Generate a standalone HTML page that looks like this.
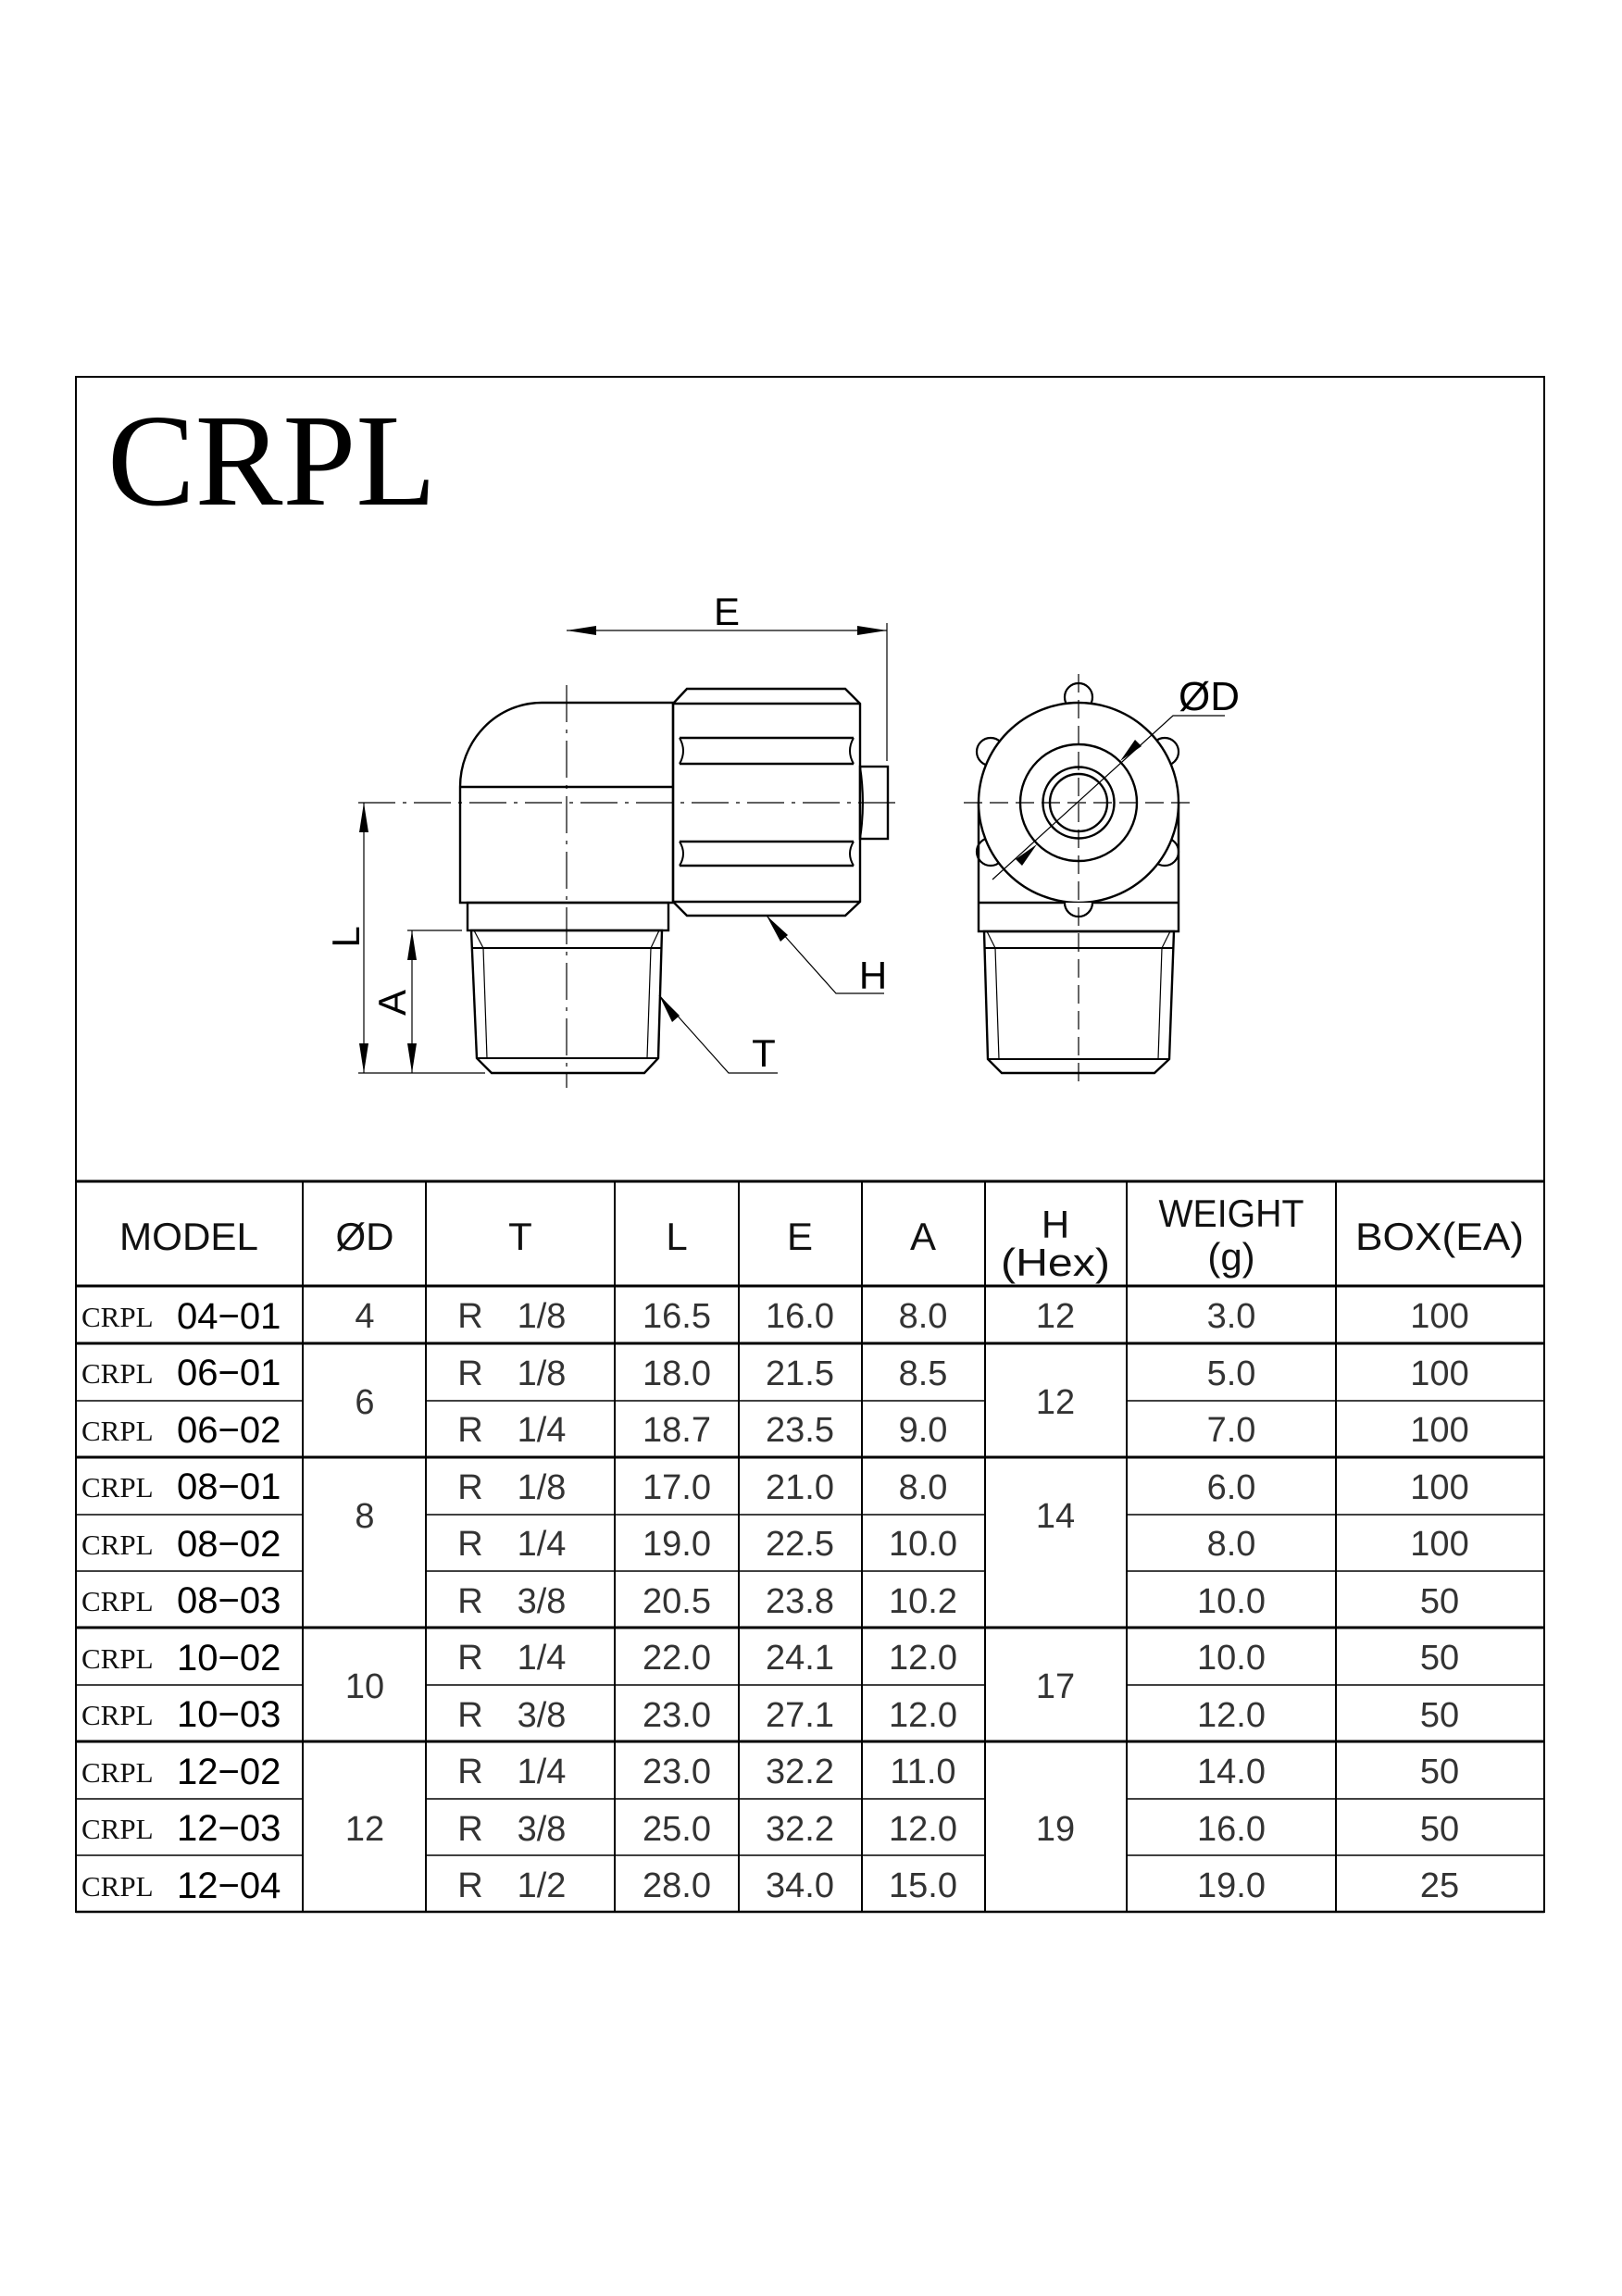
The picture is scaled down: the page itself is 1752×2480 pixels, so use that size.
<!DOCTYPE html>
<html><head><meta charset="utf-8"><style>
html,body{margin:0;padding:0;background:#fff;}
svg{display:block;}
.s{font-family:"Liberation Sans",sans-serif;}
.v{font-family:"Liberation Sans",sans-serif;font-size:38px;fill:#333;text-anchor:middle;}
.h{font-family:"Liberation Sans",sans-serif;font-size:42px;fill:#111;text-anchor:middle;}
.cr{font-family:"Liberation Serif",serif;font-size:31px;fill:#111;}
.mn{font-family:"Liberation Sans",sans-serif;font-size:40px;fill:#000;}
</style></head><body>
<svg width="1752" height="2480" viewBox="0 0 1752 2480" xmlns="http://www.w3.org/2000/svg">
<rect x="0" y="0" width="1752" height="2480" fill="#fff"/>
<rect x="82" y="407" width="1586" height="1658" fill="none" stroke="#000" stroke-width="2"/>
<text x="116" y="545" font-family="Liberation Serif, serif" font-size="142" fill="#000">CRPL</text>

<g fill="none" stroke="#000" stroke-width="2.4">
  <path d="M585 759 L727 759 L727 975 L497 975 L497 850 A88 91 0 0 1 585 759 Z"/>
  <line x1="497" y1="850" x2="727" y2="850"/>
  <rect x="505" y="975" width="217" height="30"/>
  <path d="M509 1005 L715 1005 L711 1143 L696 1159 L531 1159 L515 1143 Z"/>
  <line x1="510" y1="1024" x2="714" y2="1024" stroke-width="2"/>
  <line x1="515" y1="1143" x2="711" y2="1143" stroke-width="2"/>
  <path d="M727 760 L742 744 L913 744 L929 760 L929 974 L913 989 L742 989 L727 974 Z"/>
  <line x1="727" y1="760" x2="929" y2="760"/>
  <line x1="727" y1="974" x2="929" y2="974"/>
  <line x1="734" y1="797" x2="922" y2="797"/>
  <line x1="734" y1="825" x2="922" y2="825"/>
  <line x1="734" y1="909" x2="922" y2="909"/>
  <line x1="734" y1="935" x2="922" y2="935"/>
  <path d="M734 797 Q742 811 734 825 M922 797 Q914 811 922 825 M734 909 Q742 922 734 935 M922 909 Q914 922 922 935" stroke-width="2"/>
  <rect x="929" y="828" width="30" height="78"/>
  <path d="M929 828 Q935 867 929 906" stroke-width="2"/>
</g>
<g stroke="#000" stroke-width="1.2" fill="none">
  <line x1="522" y1="1024" x2="526" y2="1143"/>
  <line x1="703" y1="1024" x2="699" y2="1143"/>
  <line x1="512" y1="1005" x2="522" y2="1024"/>
  <line x1="712" y1="1005" x2="703" y2="1024"/>
  <line x1="612" y1="740" x2="612" y2="1175" stroke-dasharray="40,8,4,8"/>
  <line x1="387" y1="867" x2="975" y2="867" stroke-dasharray="40,8,4,8"/>
  <line x1="958" y1="673" x2="958" y2="822"/>
  <line x1="612" y1="681" x2="958" y2="681"/>
  <line x1="387" y1="1159" x2="524" y2="1159"/>
  <line x1="440" y1="1005" x2="499" y2="1005"/>
  <line x1="393" y1="867" x2="393" y2="1159"/>
  <line x1="445" y1="1005" x2="445" y2="1159"/>
  <polyline points="828,989 903,1073 955,1073"/>
  <polyline points="712,1075 787,1159 840,1159"/>
</g>
<g fill="#000">
  <polygon points="612,681 644,676 644,686"/>
  <polygon points="958,681 926,676 926,686"/>
  <polygon points="393,867 388,899 398,899"/>
  <polygon points="393,1159 388,1127 398,1127"/>
  <polygon points="445,1005 440,1037 450,1037"/>
  <polygon points="445,1159 440,1127 450,1127"/>
  <polygon points="828,989 851,1010 843,1017"/>
  <polygon points="712,1075 734,1097 726,1104"/>
</g>
<g class="s" font-size="42" fill="#000">
  <text x="785" y="675" text-anchor="middle">E</text>
  <text x="943" y="1068" text-anchor="middle">H</text>
  <text x="825" y="1152" text-anchor="middle">T</text>
  <text transform="translate(388,1012) rotate(-90)" text-anchor="middle">L</text>
  <text transform="translate(438,1083) rotate(-90)" text-anchor="middle">A</text>
</g>

<g fill="#fff" stroke="#000" stroke-width="2.2">
  <circle cx="1165" cy="753" r="15"/>
  <circle cx="1070" cy="812" r="15"/>
  <circle cx="1258" cy="812" r="15"/>
  <circle cx="1070" cy="920" r="15"/>
  <circle cx="1258" cy="920" r="15"/>
  <circle cx="1165" cy="975" r="15"/>
</g>
<g fill="none" stroke="#000" stroke-width="2.4">
  <path d="M1057 867 L1057 1006 L1273 1006 L1273 867"/>
  <line x1="1057" y1="975" x2="1273" y2="975"/>
  <circle cx="1165" cy="867" r="108" fill="#fff"/>
  <circle cx="1165" cy="867" r="63"/>
  <circle cx="1165" cy="867" r="38.5"/>
  <circle cx="1165" cy="867" r="31"/>
  <path d="M1063 1006 L1268 1006 L1263 1144 L1247 1159 L1082 1159 L1067 1144 Z"/>
  <line x1="1064" y1="1024" x2="1267" y2="1024" stroke-width="2"/>
  <line x1="1067" y1="1144" x2="1263" y2="1144" stroke-width="2"/>
</g>
<path d="M1150 975 A15 15 0 0 0 1180 975" fill="#fff" stroke="#000" stroke-width="2.2"/>
<g stroke="#000" stroke-width="1.2" fill="none">
  <line x1="1075" y1="1024" x2="1079" y2="1144"/>
  <line x1="1255" y1="1024" x2="1251" y2="1144"/>
  <line x1="1066" y1="1006" x2="1075" y2="1024"/>
  <line x1="1264" y1="1006" x2="1255" y2="1024"/>
  <line x1="1165" y1="728" x2="1165" y2="1175" stroke-dasharray="20,8"/>
  <line x1="1041" y1="867" x2="1288" y2="867" stroke-dasharray="20,8"/>
  <polyline points="1072,950 1267,773 1323,773"/>
</g>
<g fill="#000">
  <polygon points="1210,822 1233,806 1226,799"/>
  <polygon points="1120,912 1097,928 1104,935"/>
</g>
<text x="1273" y="767" class="s" font-size="44" fill="#000">ØD</text>

<g stroke="#000" fill="none">
  <line x1="82" y1="1276" x2="1668" y2="1276" stroke-width="3"/>
  <line x1="82" y1="1389" x2="1668" y2="1389" stroke-width="3"/>
  <line x1="82" y1="1451" x2="1668" y2="1451" stroke-width="3"/>
  <line x1="82" y1="1574" x2="1668" y2="1574" stroke-width="3"/>
  <line x1="82" y1="1758" x2="1668" y2="1758" stroke-width="3"/>
  <line x1="82" y1="1881" x2="1668" y2="1881" stroke-width="3"/>
  <line x1="82" y1="2065" x2="1668" y2="2065" stroke-width="2.5"/>
  <g stroke-width="1.6">
    <path d="M82 1513 H327 M460 1513 H1064 M1217 1513 H1668"/>
    <path d="M82 1636 H327 M460 1636 H1064 M1217 1636 H1668"/>
    <path d="M82 1697 H327 M460 1697 H1064 M1217 1697 H1668"/>
    <path d="M82 1820 H327 M460 1820 H1064 M1217 1820 H1668"/>
    <path d="M82 1943 H327 M460 1943 H1064 M1217 1943 H1668"/>
    <path d="M82 2004 H327 M460 2004 H1064 M1217 2004 H1668"/>
  </g>
  <g stroke-width="2">
    <line x1="327" y1="1276" x2="327" y2="2065"/>
    <line x1="460" y1="1276" x2="460" y2="2065"/>
    <line x1="664" y1="1276" x2="664" y2="2065"/>
    <line x1="798" y1="1276" x2="798" y2="2065"/>
    <line x1="931" y1="1276" x2="931" y2="2065"/>
    <line x1="1064" y1="1276" x2="1064" y2="2065"/>
    <line x1="1217" y1="1276" x2="1217" y2="2065"/>
    <line x1="1443" y1="1276" x2="1443" y2="2065"/>
  </g>
</g>
<g class="h">
  <text x="204" y="1350" textLength="150" lengthAdjust="spacingAndGlyphs">MODEL</text>
  <text x="394" y="1350">ØD</text>
  <text x="562" y="1350">T</text>
  <text x="731" y="1350">L</text>
  <text x="864" y="1350">E</text>
  <text x="997" y="1350">A</text>
  <text x="1140" y="1337">H</text>
  <text x="1140" y="1378" textLength="118" lengthAdjust="spacingAndGlyphs">(Hex)</text>
  <text x="1330" y="1325" textLength="157" lengthAdjust="spacingAndGlyphs">WEIGHT</text>
  <text x="1330" y="1372">(g)</text>
  <text x="1555" y="1350" textLength="182" lengthAdjust="spacingAndGlyphs">BOX(EA)</text>
</g>
<g>
<text class="cr" x="88" y="1433">CRPL</text><text class="mn" x="191" y="1435">04−01</text>
<text class="cr" x="88" y="1494">CRPL</text><text class="mn" x="191" y="1496">06−01</text>
<text class="cr" x="88" y="1556">CRPL</text><text class="mn" x="191" y="1558">06−02</text>
<text class="cr" x="88" y="1617">CRPL</text><text class="mn" x="191" y="1619">08−01</text>
<text class="cr" x="88" y="1679">CRPL</text><text class="mn" x="191" y="1681">08−02</text>
<text class="cr" x="88" y="1740">CRPL</text><text class="mn" x="191" y="1742">08−03</text>
<text class="cr" x="88" y="1802">CRPL</text><text class="mn" x="191" y="1804">10−02</text>
<text class="cr" x="88" y="1863">CRPL</text><text class="mn" x="191" y="1865">10−03</text>
<text class="cr" x="88" y="1925">CRPL</text><text class="mn" x="191" y="1927">12−02</text>
<text class="cr" x="88" y="1986">CRPL</text><text class="mn" x="191" y="1988">12−03</text>
<text class="cr" x="88" y="2048">CRPL</text><text class="mn" x="191" y="2050">12−04</text>
</g>
<g class="v">
  <text x="394" y="1434">4</text>
  <text x="394" y="1527">6</text>
  <text x="394" y="1650">8</text>
  <text x="394" y="1834">10</text>
  <text x="394" y="1988">12</text>
  <text x="1140" y="1434">12</text>
  <text x="1140" y="1527">12</text>
  <text x="1140" y="1650">14</text>
  <text x="1140" y="1834">17</text>
  <text x="1140" y="1988">19</text>

  <text x="508" y="1434">R</text><text x="585" y="1434">1/8</text><text x="731" y="1434">16.5</text><text x="864" y="1434">16.0</text><text x="997" y="1434">8.0</text><text x="1330" y="1434">3.0</text><text x="1555" y="1434">100</text>
  <text x="508" y="1496">R</text><text x="585" y="1496">1/8</text><text x="731" y="1496">18.0</text><text x="864" y="1496">21.5</text><text x="997" y="1496">8.5</text><text x="1330" y="1496">5.0</text><text x="1555" y="1496">100</text>
  <text x="508" y="1557">R</text><text x="585" y="1557">1/4</text><text x="731" y="1557">18.7</text><text x="864" y="1557">23.5</text><text x="997" y="1557">9.0</text><text x="1330" y="1557">7.0</text><text x="1555" y="1557">100</text>
  <text x="508" y="1619">R</text><text x="585" y="1619">1/8</text><text x="731" y="1619">17.0</text><text x="864" y="1619">21.0</text><text x="997" y="1619">8.0</text><text x="1330" y="1619">6.0</text><text x="1555" y="1619">100</text>
  <text x="508" y="1680">R</text><text x="585" y="1680">1/4</text><text x="731" y="1680">19.0</text><text x="864" y="1680">22.5</text><text x="997" y="1680">10.0</text><text x="1330" y="1680">8.0</text><text x="1555" y="1680">100</text>
  <text x="508" y="1742">R</text><text x="585" y="1742">3/8</text><text x="731" y="1742">20.5</text><text x="864" y="1742">23.8</text><text x="997" y="1742">10.2</text><text x="1330" y="1742">10.0</text><text x="1555" y="1742">50</text>
  <text x="508" y="1803">R</text><text x="585" y="1803">1/4</text><text x="731" y="1803">22.0</text><text x="864" y="1803">24.1</text><text x="997" y="1803">12.0</text><text x="1330" y="1803">10.0</text><text x="1555" y="1803">50</text>
  <text x="508" y="1865">R</text><text x="585" y="1865">3/8</text><text x="731" y="1865">23.0</text><text x="864" y="1865">27.1</text><text x="997" y="1865">12.0</text><text x="1330" y="1865">12.0</text><text x="1555" y="1865">50</text>
  <text x="508" y="1926">R</text><text x="585" y="1926">1/4</text><text x="731" y="1926">23.0</text><text x="864" y="1926">32.2</text><text x="997" y="1926">11.0</text><text x="1330" y="1926">14.0</text><text x="1555" y="1926">50</text>
  <text x="508" y="1988">R</text><text x="585" y="1988">3/8</text><text x="731" y="1988">25.0</text><text x="864" y="1988">32.2</text><text x="997" y="1988">12.0</text><text x="1330" y="1988">16.0</text><text x="1555" y="1988">50</text>
  <text x="508" y="2049">R</text><text x="585" y="2049">1/2</text><text x="731" y="2049">28.0</text><text x="864" y="2049">34.0</text><text x="997" y="2049">15.0</text><text x="1330" y="2049">19.0</text><text x="1555" y="2049">25</text>
</g>
</svg>
</body></html>
